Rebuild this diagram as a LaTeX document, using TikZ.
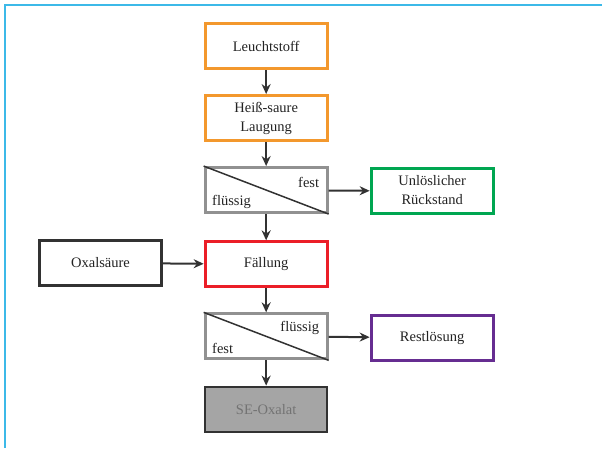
\documentclass[tikz,border=0pt]{standalone}
\usepackage{fontspec}
\setmainfont{Liberation Serif}
\usetikzlibrary{matrix,arrows.meta}

\definecolor{framecol}{RGB}{60,185,232}
\definecolor{orangebox}{RGB}{243,152,45}
\definecolor{sepgray}{RGB}{145,145,145}
\definecolor{greenbox}{RGB}{0,166,81}
\definecolor{redbox}{RGB}{235,30,40}
\definecolor{purplebox}{RGB}{102,45,145}
\definecolor{darkbox}{RGB}{50,50,50}
\definecolor{oxalatfill}{RGB}{165,165,165}
\definecolor{textgray}{RGB}{35,35,35}
\newcommand{\twolines}[2]{\begin{tabular}{@{}c@{}}#1\\#2\end{tabular}}

\begin{document}
\begin{tikzpicture}[x=1pt,y=-1pt,>={Stealth[length=10pt,width=9pt]}]
    \useasboundingbox (0,0) rectangle (602,448);
    \draw[framecol, line width=2pt] (602,5) -- (5,5) -- (5,448);
    \matrix (flow) at (266.5,227.5) [%
        matrix of nodes,
        inner sep=0pt,
        column sep=41pt,
        row sep=24pt,
        nodes={draw, line width=3pt, minimum width=122pt, minimum height=45pt,
               text=textgray, font=\fontsize{14.5}{19.5}\selectfont},
    ]
    {  & |[draw=orangebox]| Leuchtstoff &  \\ % grid: col 1 input, col 2 main line, col 3 outputs
       & |[draw=orangebox]| \twolines{Heiß-saure}{Laugung} &  \\
       & |[draw=sepgray]| \phantom{M} & |[draw=greenbox]| \twolines{Unlöslicher}{Rückstand} \\
    |[draw=darkbox, line width=2.3pt]| Oxalsäure & |[draw=redbox]| Fällung &  \\
       & |[draw=sepgray]| \phantom{M} & |[draw=purplebox]| Restlösung \\
       & |[draw=darkbox, line width=2.3pt, fill=oxalatfill, text=black!55]| SE-Oxalat &  \\
    };
    % split boxes: diagonal plus the two phase labels
    \draw[darkbox, line width=1.5pt] (flow-3-2.north west) -- (flow-3-2.south east);
    \draw[darkbox, line width=1.5pt] (flow-5-2.north west) -- (flow-5-2.south east);
    \node[anchor=east, text=textgray, font=\fontsize{14.5}{19.5}\selectfont] (sepA-top) at ([xshift=-6pt,yshift=-16pt]flow-3-2.north east) {fest};
    \node[anchor=west, text=textgray, font=\fontsize{14.5}{19.5}\selectfont] (sepA-bot) at ([xshift=5pt,yshift=12pt]flow-3-2.south west) {flüssig};
    \node[anchor=east, text=textgray, font=\fontsize{14.5}{19.5}\selectfont] (sepB-top) at ([xshift=-6pt,yshift=-16pt]flow-5-2.north east) {flüssig};
    \node[anchor=west, text=textgray, font=\fontsize{14.5}{19.5}\selectfont] (sepB-bot) at ([xshift=5pt,yshift=12pt]flow-5-2.south west) {fest};
    \draw[->, darkbox, line width=2pt] (flow-1-2) -- (flow-2-2);
    \draw[->, darkbox, line width=2pt] (flow-2-2) -- (flow-3-2);
    \draw[->, darkbox, line width=2pt] (flow-3-2) -- (flow-4-2);
    \draw[->, darkbox, line width=2pt] (flow-3-2) -- (flow-3-3);
    \draw[->, darkbox, line width=2pt] (flow-4-1) -- (flow-4-2);
    \draw[->, darkbox, line width=2pt] (flow-4-2) -- (flow-5-2);
    \draw[->, darkbox, line width=2pt] (flow-5-2) -- (flow-5-3);
    \draw[->, darkbox, line width=2pt] (flow-5-2) -- (flow-6-2);
\end{tikzpicture}
\end{document}
